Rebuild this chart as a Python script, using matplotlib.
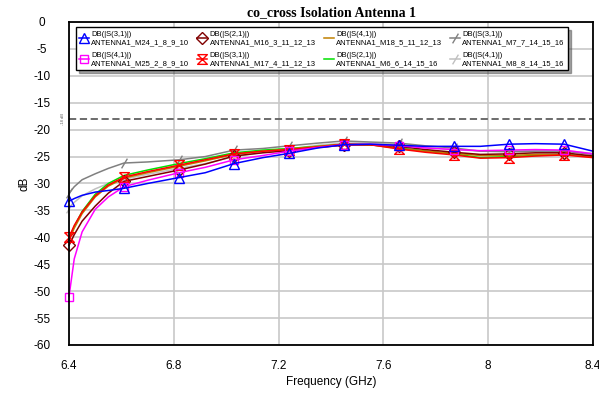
import numpy as np
import matplotlib
matplotlib.use("Agg")
import matplotlib.pyplot as plt

plt.rcParams['font.family'] = ['Liberation Sans', 'DejaVu Sans']
plt.rcParams['axes.unicode_minus'] = False

# frequency points (GHz)
freq = [6.4, 6.42, 6.45, 6.5, 6.55, 6.61, 6.7, 6.82, 6.92, 7.03, 7.14, 7.24,
        7.35, 7.45, 7.55, 7.66, 7.76, 7.87, 7.97, 8.08, 8.18, 8.29, 8.4]
mark_idx = [0, 5, 7, 9, 11, 13, 15, 17, 19, 21]

# traces in dB
m24_s31 = [-33.3, -32.8, -32.2, -31.6, -31.3, -30.9, -30.0, -28.9, -28.0, -26.3, -25.2, -24.4,
           -23.4, -22.8, -22.7, -22.9, -23.1, -23.1, -23.1, -22.7, -22.6, -22.7, -24.0]
m25_s41 = [-51.0, -44.0, -39.0, -34.8, -32.5, -30.6, -29.4, -28.0, -27.0, -25.6, -24.8, -24.0,
           -23.3, -22.8, -22.7, -23.0, -23.4, -23.7, -23.9, -23.8, -23.7, -23.8, -24.5]
m16_s21 = [-41.5, -39.5, -37.0, -34.2, -31.8, -29.6, -28.7, -27.5, -26.4, -24.9, -24.3, -23.9,
           -23.3, -22.9, -22.8, -23.1, -23.7, -24.2, -24.6, -24.5, -24.3, -24.3, -24.9]
m17_s31 = [-40.0, -37.8, -35.3, -32.3, -30.3, -28.8, -27.8, -26.6, -25.6, -24.5, -24.0, -23.7,
           -23.2, -22.7, -22.8, -23.6, -24.2, -24.7, -25.3, -25.2, -24.9, -24.7, -25.2]
m18_s41 = [-40.5, -38.3, -35.6, -32.5, -30.5, -29.0, -28.0, -26.8, -25.8, -24.6, -24.0, -23.6,
           -23.1, -22.7, -22.8, -23.5, -24.0, -24.4, -24.8, -24.8, -24.6, -24.6, -25.1]
m6_s21 = [-40.3, -38.0, -35.2, -32.0, -30.0, -28.5, -27.5, -26.3, -25.4, -24.3, -23.8, -23.5,
          -23.1, -22.7, -22.8, -23.4, -24.0, -24.5, -25.2, -25.0, -24.8, -24.6, -25.0]
m7_s31 = [-31.8, -30.6, -29.3, -28.2, -27.2, -26.2, -26.0, -25.6, -25.0, -23.8, -23.5, -23.0,
          -22.5, -22.1, -22.3, -22.5, -23.0, -23.4, -24.0, -24.1, -24.0, -24.0, -24.6]
m8_s41 = [-34.5, -33.5, -32.3, -31.0, -30.0, -29.2, -28.3, -27.2, -26.3, -25.0, -24.2, -23.6,
          -22.9, -22.5, -22.5, -22.8, -23.3, -23.7, -24.0, -24.0, -23.9, -23.9, -24.4]

limit_db = -18
xticks = [6.4, 6.8, 7.2, 7.6, 8.0, 8.4]
xticklabels = ['6.4', '6.8', '7.2', '7.6', '8', '8.4']

hourglass = [(-1, 1), (1, 1), (-1, -1), (1, -1), (-1, 1)]
slash = [(-0.6, -1), (0.6, 1)]

fig = plt.figure(figsize=(5.99, 3.94), dpi=100)
ax = fig.add_axes([0.1152, 0.1244, 0.8748, 0.8198])

traces = [
    (m8_s41, '#c0c0c0', slash, 'DB(|S(4,1)|)\nANTENNA1_M8_8_14_15_16'),
    (m7_s31, '#808080', slash, 'DB(|S(3,1)|)\nANTENNA1_M7_7_14_15_16'),
    (m6_s21, '#00e000', None, 'DB(|S(2,1)|)\nANTENNA1_M6_6_14_15_16'),
    (m18_s41, '#c08000', None, 'DB(|S(4,1)|)\nANTENNA1_M18_5_11_12_13'),
    (m16_s21, '#800000', 'D', 'DB(|S(2,1)|)\nANTENNA1_M16_3_11_12_13'),
    (m17_s31, '#ff0000', hourglass, 'DB(|S(3,1)|)\nANTENNA1_M17_4_11_12_13'),
    (m25_s41, '#ff00ff', 's', 'DB(|S(4,1)|)\nANTENNA1_M25_2_8_9_10'),
    (m24_s31, '#0000ff', '^', 'DB(|S(3,1)|)\nANTENNA1_M24_1_8_9_10'),
]

for vals, col, mk, lab in traces:
    ms = 6 if mk in ('D', 's') else 7
    ax.plot(freq, vals, color=col, lw=1.1, marker=mk, markevery=mark_idx,
            markersize=ms, markerfacecolor='none', markeredgecolor=col,
            markeredgewidth=1.0, label=lab, clip_on=False)

ax.axhline(limit_db, color='#606060', lw=1.3, dashes=(4, 2), zorder=1)
ax.text(-0.012, limit_db, '-18 dB', transform=ax.get_yaxis_transform(),
        rotation=90, fontsize=3, color='#606060', ha='center', va='center')

ax.set_xlim(6.4, 8.4)
ax.set_ylim(-60, 0)
ax.set_xticks(xticks)
ax.set_xticklabels(xticklabels)
ax.set_yticks(np.arange(-60, 1, 5))
ax.grid(True, color='#c8c8c8', lw=1.2)
ax.set_axisbelow(True)
ax.tick_params(axis='both', length=0, labelsize=8.5)
ax.tick_params(axis='y', pad=19.5)
ax.tick_params(axis='x', pad=11)
for lbl in ax.get_yticklabels():
    lbl.set_horizontalalignment('center')
for sp in ax.spines.values():
    sp.set_linewidth(1.3)

ax.set_xlabel('Frequency (GHz)', fontsize=8.5, labelpad=3)
ax.set_ylabel('dB', fontsize=8.5, labelpad=2)
ax.set_title('co_cross Isolation Antenna 1', fontsize=10, fontweight='bold',
             family='Liberation Serif', pad=4)

# legend order: column-wise, 4 columns x 2 rows
order = [7, 6, 4, 5, 3, 2, 1, 0]
handles = [ax.get_lines()[i] for i in order]
labels = [traces[i][3] for i in order]
leg = ax.legend(handles, labels, ncol=4, loc='upper left', bbox_to_anchor=(0.013, 0.983),
                borderaxespad=0, fontsize=5.5, handlelength=1.3, handletextpad=0.3,
                columnspacing=1.05, labelspacing=0.8, borderpad=0.45, fancybox=False,
                shadow={'color': '0.3'}, edgecolor='black', framealpha=1)
leg.get_frame().set_linewidth(1.0)

fig.savefig('out.png', dpi=100)
